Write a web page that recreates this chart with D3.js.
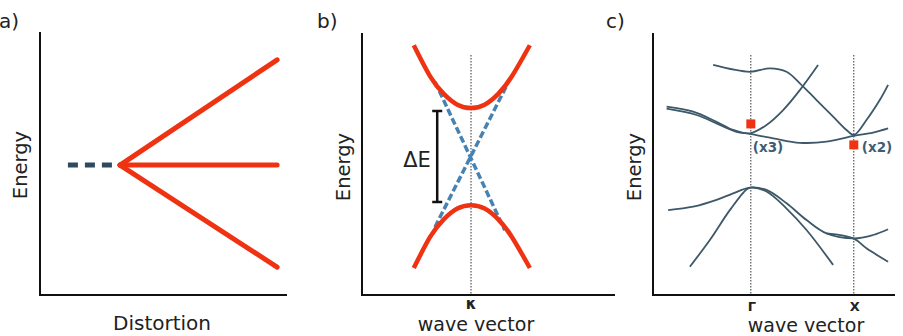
<!DOCTYPE html>
<html>
<head>
<meta charset="utf-8">
<script src="https://cdn.jsdelivr.net/npm/d3@7"></script>
<style>
  body { margin: 0; background: #fff; }
  text { font-family: "DejaVu Sans", sans-serif; fill: #222; }
</style>
</head>
<body>
<div class="chart"></div>
<script>
// DATA ------------------------------------
// panel a: level splitting vs distortion
const aDegenX = [0.113, 0.312];
const aDegenE = [0.494, 0.494];
const aSplitX = [0.324, 0.96];
const aSplitE = [[0.494, 0.894], [0.494, 0.494], [0.494, 0.106]];

// panel b: gap opening at kappa
const bK = [-1.05, -0.75, -0.5, -0.25, 0, 0.25, 0.5, 0.75, 1.08];
const bUpper = [0.85, 0.62, 0.49, 0.41, 0.385, 0.41, 0.49, 0.62, 0.85];
const bLower = [-0.80, -0.57, -0.44, -0.36, -0.335, -0.36, -0.44, -0.57, -0.80];
const bCrossK = [[-0.66, 0.62], [-0.66, 0.66]];
const bCrossE = [[0.578, -0.52], [-0.496, 0.556]];
const bGapK = -0.62;
const bGapE = [0.363, -0.311];

// panel c: band structure, k (Gamma=0, X=1) and E
const cBands = [
  { k: [-0.366, -0.01, 0.184, 0.347, 0.476, 0.638, 0.799, 0.929, 1.0, 1.123, 1.252, 1.333],
    e: [0.878, 0.852, 0.865, 0.852, 0.808, 0.744, 0.681, 0.63, 0.611, 0.668, 0.744, 0.802] },
  { k: [-0.818, -0.56, -0.333, -0.172, -0.01, 0.152, 0.314, 0.476, 0.653],
    e: [0.719, 0.70, 0.661, 0.630, 0.617, 0.649, 0.706, 0.782, 0.878] },
  { k: [-0.818, -0.527, -0.301, -0.139, -0.01, 0.217, 0.476, 0.735, 1.0, 1.187, 1.333],
    e: [0.711, 0.687, 0.649, 0.623, 0.615, 0.598, 0.581, 0.585, 0.607, 0.620, 0.636] },
  { k: [-0.803, -0.56, -0.333, -0.172, -0.01, 0.152, 0.347, 0.541, 0.735, 1.0, 1.187, 1.333],
    e: [0.324, 0.337, 0.363, 0.388, 0.41, 0.401, 0.35, 0.286, 0.235, 0.216, 0.229, 0.251] },
  { k: [-0.592, -0.398, -0.204, -0.042, 0, 0.152, 0.347, 0.541, 0.799],
    e: [0.108, 0.21, 0.324, 0.403, 0.41, 0.395, 0.330, 0.248, 0.115] },
  { k: [0.735, 1.0, 1.123, 1.333],
    e: [0.235, 0.215, 0.178, 0.127] }
];
const cMarkK = [0, 1];
const cMarkE = [0.653, 0.573];
const cMarkLabels = ["(x3)", "(x2)"];
const cTicks = ["Γ", "X"];

// CHART INIT ------------------------------
const red = "#ef3312", dark = "#2d4a60", band = "#3d5868";

const svg = d3.select(".chart")
  .append("svg")
  .attr("width", 903)
  .attr("height", 336);

function axes(g, x0, x1, y0, y1) {
  g.append("path")
    .attr("d", `M${x0},${y0}V${y1}H${x1}`)
    .attr("fill", "none")
    .attr("stroke", "#111")
    .attr("stroke-width", 2);
}

function yLabel(g, x, y) {
  g.append("text")
    .attr("transform", `translate(${x},${y}) rotate(-90)`)
    .attr("text-anchor", "middle")
    .style("font-size", "19.5px")
    .text("Energy");
}

function panelTag(x, t) {
  svg.append("text").attr("x", x).attr("y", 28)
    .style("font-size", "20px").text(t);
}

// PANEL A ---------------------------------
const ax = d3.scaleLinear().domain([0, 1]).range([40, 287]);
const ay = d3.scaleLinear().domain([0, 1]).range([295, 32]);
const ga = svg.append("g");
axes(ga, 40, 287, 32, 295);
yLabel(ga, 27, 165);
ga.append("text").attr("x", 162).attr("y", 330)
  .attr("text-anchor", "middle").style("font-size", "20px").text("Distortion");
panelTag(-1, "a)");

const lineA = d3.line().x(d => ax(d[0])).y(d => ay(d[1]));
ga.append("path")
  .attr("d", lineA(d3.zip(aDegenX, aDegenE)))
  .attr("stroke", dark).attr("stroke-width", 5)
  .attr("stroke-dasharray", "10,7").attr("fill", "none");
aSplitE.forEach(e => {
  ga.append("path")
    .attr("d", lineA(d3.zip(aSplitX, e)))
    .attr("stroke", red).attr("stroke-width", 5)
    .attr("stroke-linecap", "round").attr("fill", "none");
});

// PANEL B ---------------------------------
const bx = d3.scaleLinear().domain([-2, 2]).range([362, 580]);
const by = d3.scaleLinear().domain([-1, 1]).range([295, 25]);
const gb = svg.append("g");
axes(gb, 362, 615, 33, 295);
yLabel(gb, 350, 167);
panelTag(317, "b)");
gb.append("line")
  .attr("x1", bx(0)).attr("x2", bx(0)).attr("y1", 55).attr("y2", 295)
  .attr("stroke", "#333").attr("stroke-width", 1).attr("stroke-dasharray", "1.5,1.5");
gb.append("text").attr("x", bx(0)).attr("y", 309)
  .attr("text-anchor", "middle").style("font-size", "15px").style("font-weight", "bold").text("κ");
gb.append("text").attr("x", 476).attr("y", 331)
  .attr("text-anchor", "middle").style("font-size", "19px").text("wave vector");

bCrossK.forEach((k, i) => {
  gb.append("path")
    .attr("d", d3.line()(d3.zip(k.map(bx), bCrossE[i].map(by))))
    .attr("stroke", "#4683b3").attr("stroke-width", 3.5)
    .attr("stroke-dasharray", "7,3").attr("fill", "none");
});
const lineB = d3.line().curve(d3.curveNatural).x(d => bx(d[0])).y(d => by(d[1]));
[bUpper, bLower].forEach(e => {
  gb.append("path")
    .attr("d", lineB(d3.zip(bK, e)))
    .attr("stroke", red).attr("stroke-width", 4.5).attr("fill", "none");
});
// gap bar
gb.append("path")
  .attr("d", `M${bx(bGapK)},${by(bGapE[0])}V${by(bGapE[1])}` +
    `M${bx(bGapK) - 5},${by(bGapE[0])}h10M${bx(bGapK) - 5},${by(bGapE[1])}h10`)
  .attr("stroke", "#111").attr("stroke-width", 2.5).attr("fill", "none");
gb.append("text").attr("x", 417).attr("y", 167)
  .attr("text-anchor", "middle").style("font-size", "21px").text("ΔE");

// PANEL C ---------------------------------
const cx = d3.scaleLinear().domain([-0.95, 1.4]).range([653, 895]);
const cy = d3.scaleLinear().domain([0, 1]).range([295, 33]);
const gc = svg.append("g");
axes(gc, 653, 895, 33, 295);
yLabel(gc, 641, 167);
panelTag(606, "c)");
cMarkK.forEach((k, i) => {
  gc.append("line")
    .attr("x1", cx(k)).attr("x2", cx(k)).attr("y1", 55).attr("y2", 295)
    .attr("stroke", "#333").attr("stroke-width", 1).attr("stroke-dasharray", "1.5,1.5");
  gc.append("text").attr("x", cx(k) + 1).attr("y", 311)
    .attr("text-anchor", "middle").style("font-size", "13px").style("font-weight", "bold").text(cTicks[i]);
});
gc.append("text").attr("x", 806).attr("y", 332)
  .attr("text-anchor", "middle").style("font-size", "19px").text("wave vector");

const lineC = d3.line().curve(d3.curveCatmullRom).x(d => cx(d[0])).y(d => cy(d[1]));
cBands.forEach(b => {
  gc.append("path")
    .attr("d", lineC(d3.zip(b.k, b.e)))
    .attr("stroke", band).attr("stroke-width", 1.8).attr("fill", "none");
});
cMarkK.forEach((k, i) => {
  gc.append("rect")
    .attr("x", cx(k) - 4.5).attr("y", cy(cMarkE[i]) - 4.5)
    .attr("width", 9).attr("height", 9).attr("fill", red);
  gc.append("text").attr("x", cx(k) + (i ? 8 : 2)).attr("y", 152)
    .style("font-size", "13.5px").style("font-weight", "bold")
    .style("fill", "#3e5c74").text(cMarkLabels[i]);
});
</script>
</body>
</html>
